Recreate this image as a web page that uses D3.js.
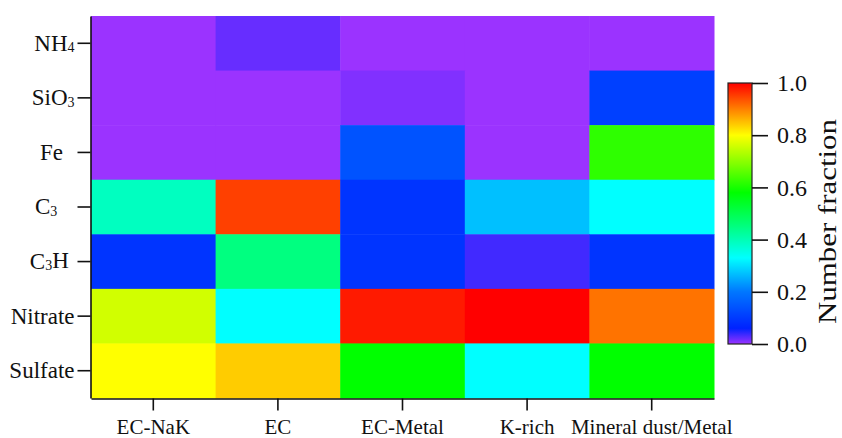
<!DOCTYPE html>
<html>
<head>
<meta charset="utf-8">
<script src="https://cdn.jsdelivr.net/npm/d3@7"></script>
<style>
  html, body { margin: 0; padding: 0; background: #fff; }
  svg { display: block; font-family: "Liberation Serif", "Times New Roman", serif; }
  .axis text { fill: #111; }
  .axis line, .axis path { stroke: #111; stroke-width: 1.6; }
</style>
</head>
<body>
<svg id="chart" width="842" height="438"></svg>
<script>
// Particle classes (columns) and ion markers (rows)
const classes = ["EC-NaK", "EC", "EC-Metal", "K-rich", "Mineral dust/Metal"];
const markers = ["NH4", "SiO3", "Fe", "C3", "C3H", "Nitrate", "Sulfate"];

// Marker labels split into [text, isSubscript] pieces; trailing spaces kept
const markerLabels = {
  "NH4":     [["NH", false], ["4", true]],
  "SiO3":    [["SiO", false], ["3", true]],
  "Fe":      [["Fe  ", false]],
  "C3":      [["C", false], ["3", true], ["   ", false]],
  "C3H":     [["C", false], ["3", true], ["H ", false]],
  "Nitrate": [["Nitrate", false]],
  "Sulfate": [["Sulfate", false]]
};

// Number fraction of each marker per class, one array per marker (row)
const fracNH4     = [0.00, 0.02, 0.00, 0.00, 0.00];
const fracSiO3    = [0.00, 0.00, 0.01, 0.00, 0.11];
const fracFe      = [0.00, 0.00, 0.14, 0.00, 0.62];
const fracC3      = [0.39, 0.95, 0.09, 0.27, 0.33];
const fracC3H     = [0.09, 0.45, 0.09, 0.035, 0.09];
const fracNitrate = [0.76, 0.33, 0.98, 1.00, 0.91];
const fracSulfate = [0.80, 0.84, 0.58, 0.33, 0.58];

const fractions = {
  "NH4": fracNH4, "SiO3": fracSiO3, "Fe": fracFe, "C3": fracC3,
  "C3H": fracC3H, "Nitrate": fracNitrate, "Sulfate": fracSulfate
};

const colorbarTicks = [0, 0.2, 0.4, 0.6, 0.8, 1.0];

// Rainbow colour table, purple (low) to red (high)
const rainbowDomain = [0, 0.06, 0.2, 0.33, 0.45, 0.58, 0.8, 0.9, 1.0];
const rainbowRange  = ["#9b33ff", "#0022ff", "#0077ff", "#00ffff", "#00ff80",
                       "#00ff00", "#ffff00", "#ff8000", "#ff0000"];

const color = d3.scaleLinear()
  .domain(rainbowDomain)
  .range(rainbowRange)
  .interpolate(d3.interpolateRgb)
  .clamp(true);

const serif = '"Liberation Serif", "Times New Roman", serif';
const svg = d3.select("#chart");

const plot = { left: 91, right: 714, top: 16, bottom: 398 };

const x = d3.scaleBand().domain(classes).range([plot.left, plot.right]);
const y = d3.scaleBand().domain(markers).range([plot.top, plot.bottom]);

const cells = [];
markers.forEach(m => classes.forEach((c, i) => cells.push({ m, c, v: fractions[m][i] })));

svg.append("g")
  .selectAll("rect")
  .data(cells)
  .join("rect")
  .attr("x", d => x(d.c))
  .attr("y", d => y(d.m))
  .attr("width", x.bandwidth() + 0.5)
  .attr("height", y.bandwidth() + 0.5)
  .attr("fill", d => color(d.v));

// Left axis with subscripted labels
const yAxis = svg.append("g")
  .attr("class", "axis")
  .attr("transform", `translate(${plot.left - 0.5},0)`)
  .call(d3.axisLeft(y).tickSize(13).tickSizeOuter(0).tickPadding(3))
  .attr("font-family", serif);

yAxis.selectAll(".tick text")
  .attr("font-size", 23)
  .style("white-space", "pre")
  .text(null)
  .each(function (m) {
    const t = d3.select(this);
    markerLabels[m].forEach(([txt, sub]) => {
      const ts = t.append("tspan").text(txt);
      if (sub) ts.attr("font-size", 14).attr("dy", "0.1em");
      else if (t.selectAll("tspan").size() > 1) ts.attr("dy", "-0.1em");
    });
  });

// Bottom axis
const xAxis = svg.append("g")
  .attr("class", "axis")
  .attr("transform", `translate(0,${plot.bottom + 0.5})`)
  .call(d3.axisBottom(x).tickSize(12).tickSizeOuter(0).tickPadding(9))
  .attr("font-family", serif);

xAxis.selectAll(".tick text").attr("font-size", 21);

// Colour bar
const bar = { x: 728, width: 24, top: 83, bottom: 344 };
const cb = d3.scaleLinear().domain([0, 1]).range([bar.bottom, bar.top]);

const grad = svg.append("defs").append("linearGradient")
  .attr("id", "rainbow")
  .attr("x1", 0).attr("y1", 1).attr("x2", 0).attr("y2", 0);

grad.selectAll("stop")
  .data(d3.range(0, 1.0001, 0.01))
  .join("stop")
  .attr("offset", d => d)
  .attr("stop-color", d => color(d));

svg.append("rect")
  .attr("x", bar.x)
  .attr("y", cb(1))
  .attr("width", bar.width)
  .attr("height", cb(0) - cb(1))
  .attr("fill", "url(#rainbow)")
  .attr("stroke", "#222")
  .attr("stroke-width", 1.2);

const cbAxis = svg.append("g")
  .attr("class", "axis")
  .attr("transform", `translate(${bar.x + bar.width},0)`)
  .call(d3.axisRight(cb).tickValues(colorbarTicks).tickFormat(d3.format(".1f"))
    .tickSize(16).tickSizeOuter(0).tickPadding(9))
  .attr("font-family", serif);

cbAxis.select(".domain").remove();
cbAxis.selectAll(".tick text").attr("font-size", 24);

svg.append("text")
  .attr("transform", `translate(836,${(bar.top + bar.bottom) / 2 + 8}) rotate(-90)`)
  .attr("text-anchor", "middle")
  .attr("font-size", 26)
  .attr("textLength", 205)
  .attr("lengthAdjust", "spacingAndGlyphs")
  .attr("fill", "#111")
  .text("Number fraction");
</script>
</body>
</html>
